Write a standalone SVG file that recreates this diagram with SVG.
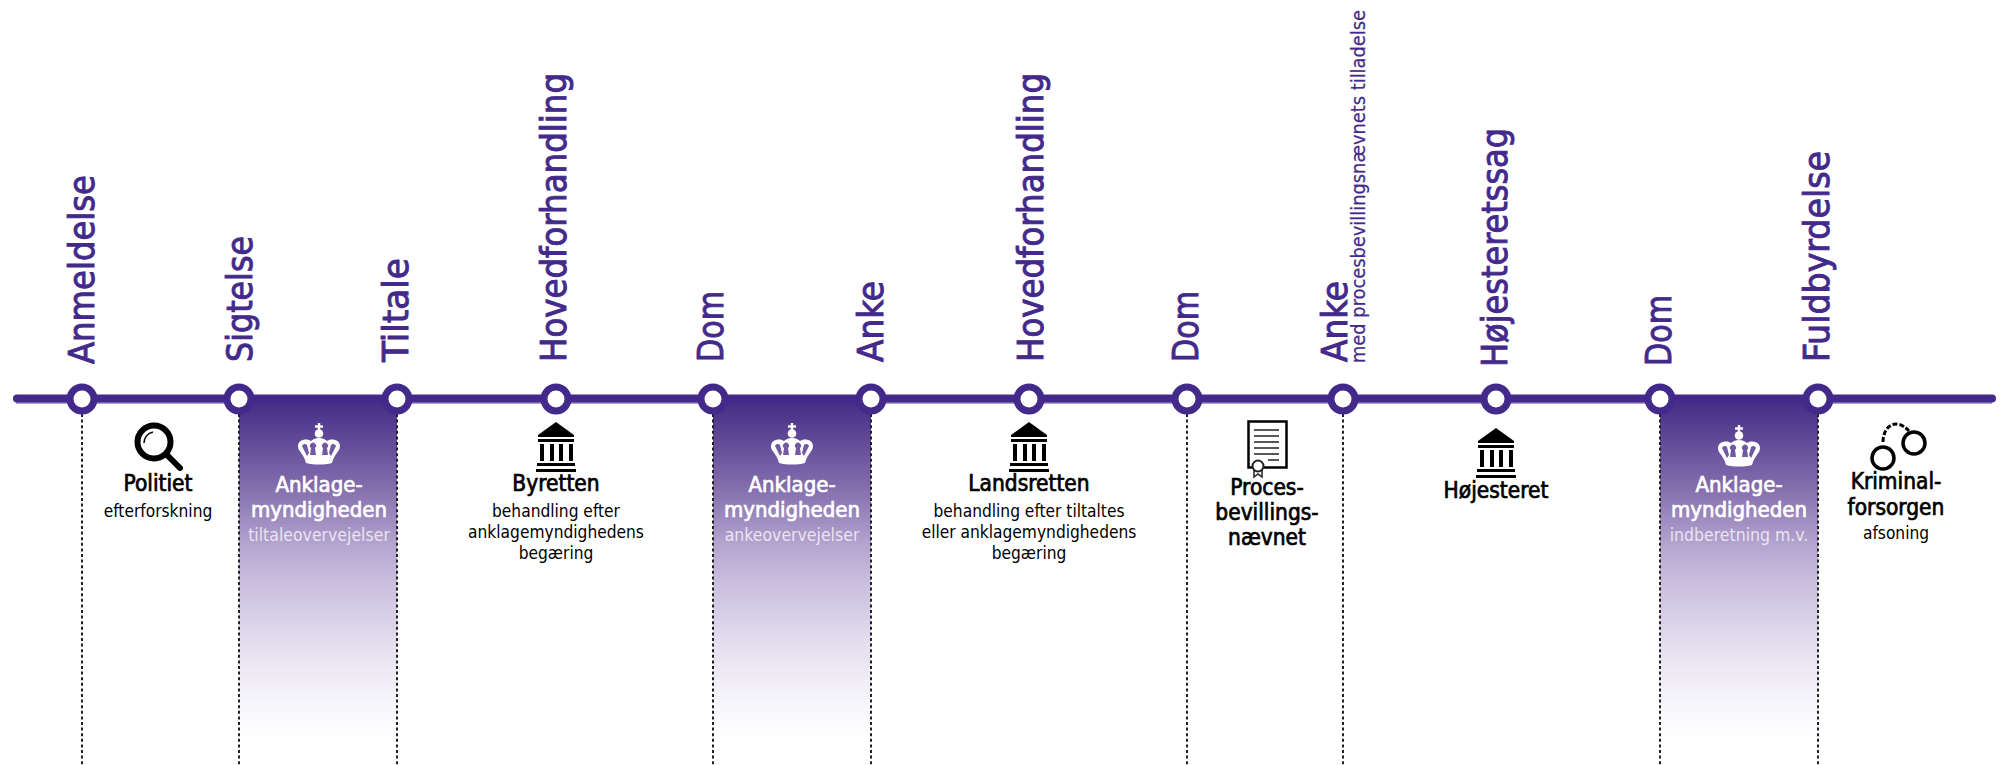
<svg xmlns="http://www.w3.org/2000/svg" width="2005" height="765" viewBox="0 0 2005 765">
<style>
text{font-family:"DejaVu Sans","Liberation Sans",sans-serif;font-stretch:condensed}
.lab{font-size:36px;fill:#432a8a;stroke:#432a8a;stroke-width:.9px}
.sm{font-size:20px;fill:#432a8a;stroke:#432a8a;stroke-width:.2px}
.t{font-size:22.500px;text-anchor:middle;fill:#000;stroke:#000;stroke-width:.7px}
.s{font-size:17.200px;text-anchor:middle;fill:#000}
.tw{font-size:22px;text-anchor:middle;fill:#fff;stroke:#fff;stroke-width:.7px}
.sw{font-size:17.500px;text-anchor:middle;fill:#fff;fill-opacity:.75}
.c{fill:#fff;stroke:#432a8a;stroke-width:7}
.d{stroke:#222;stroke-width:2;stroke-dasharray:3 2.600;fill:none}
</style>
<defs>
<linearGradient id="g" x1="0" y1="0" x2="0" y2="1"><stop offset="0" stop-color="#432a85"/><stop offset=".25" stop-color="#8670ae"/><stop offset=".4" stop-color="#b5a5d0"/><stop offset=".5" stop-color="#c9bede"/><stop offset=".68" stop-color="#e6e0f0"/><stop offset=".82" stop-color="#f6f4fa"/><stop offset=".93" stop-color="#fff"/></linearGradient>
<symbol id="crown" overflow="visible"><g fill="#fff">
<path d="M-1.200 0h2.400v2.300h2.800v2.400h-2.800v2h-2.400v-2h-2.800v-2.400h2.800z"/><circle cy="10.500" r="4.300"/>
<path d="M-13 40c-1-5-4-9-7-13-2-4-1-9 4-10 4-1 6 0 8 1 2-2 5-3 8-3s6 1 8 3c2-1 4-2 8-1 5 1 6 6 4 10-3 4-6 8-7 13-8 2-18 2-26 0z"/></g>
<g fill="#7259a3"><path d="M-8 25a3 3 0 1 1 4 0l1 7h-6z"/><path d="M4 25a3 3 0 1 1 4 0l1 7h-6z"/><path d="M-17 23a3 3 0 0 1 5-1l2 8-2 3z"/><path d="M17 23a3 3 0 0 0-5-1l-2 8 2 3z"/></g></symbol>
<symbol id="court" overflow="visible"><g fill="#000"><path d="M0 0L18 13V15H-18V13z"/><rect x="-18" y="17" width="36" height="3"/><rect x="-16" y="22" width="4" height="17"/><rect x="-6" y="22" width="4" height="17"/><rect x="3" y="22" width="4" height="17"/><rect x="13" y="22" width="4" height="17"/><rect x="-19" y="41" width="38" height="3"/><rect x="-20" y="47" width="40" height="3"/></g></symbol>
</defs>
<path d="M16 403H1992" stroke="#a99bd4" stroke-width="2" fill="none"/>
<g id="bands"><rect x="239" y="399" width="158" height="366" fill="url(#g)"/><rect x="713" y="399" width="158" height="366" fill="url(#g)"/><rect x="1660" y="399" width="158" height="366" fill="url(#g)"/></g>
<g id="connectors">
<path d="M17 398.500H1992" stroke="#432a8a" stroke-width="8" stroke-linecap="round" fill="none"/>
<path class="d" d="M82 414V765M239 414V765M397 414V765M713 414V765M871 414V765M1187 414V765M1343 414V765M1660 414V765M1818 414V765"/>
</g>
<g id="n1"><circle class="c" cx="82" cy="399" r="12"/><text class="lab" textLength="189" lengthAdjust="spacingAndGlyphs" transform="translate(94 364) rotate(-90)">Anmeldelse</text></g>
<g id="n2"><circle class="c" cx="239" cy="399" r="12"/><text class="lab" textLength="126" lengthAdjust="spacingAndGlyphs" transform="translate(252 362) rotate(-90)">Sigtelse</text></g>
<g id="n3"><circle class="c" cx="397" cy="399" r="12"/><text class="lab" textLength="104" lengthAdjust="spacingAndGlyphs" transform="translate(408 362) rotate(-90)">Tiltale</text></g>
<g id="n4"><circle class="c" cx="556" cy="399" r="12"/><text class="lab" textLength="289" lengthAdjust="spacingAndGlyphs" transform="translate(566 362) rotate(-90)">Hovedforhandling</text></g>
<g id="n5"><circle class="c" cx="713" cy="399" r="12"/><text class="lab" textLength="71" lengthAdjust="spacingAndGlyphs" transform="translate(723 362) rotate(-90)">Dom</text></g>
<g id="n6"><circle class="c" cx="871" cy="399" r="12"/><text class="lab" textLength="81" lengthAdjust="spacingAndGlyphs" transform="translate(883 362) rotate(-90)">Anke</text></g>
<g id="n7"><circle class="c" cx="1029" cy="399" r="12"/><text class="lab" textLength="289" lengthAdjust="spacingAndGlyphs" transform="translate(1043 362) rotate(-90)">Hovedforhandling</text></g>
<g id="n8"><circle class="c" cx="1187" cy="399" r="12"/><text class="lab" textLength="71" lengthAdjust="spacingAndGlyphs" transform="translate(1198 362) rotate(-90)">Dom</text></g>
<g id="n9"><circle class="c" cx="1343" cy="399" r="12"/><text class="lab" textLength="81" lengthAdjust="spacingAndGlyphs" transform="translate(1347 362) rotate(-90)">Anke</text><text class="sm" textLength="353" lengthAdjust="spacingAndGlyphs" transform="translate(1365 363) rotate(-90)">med procesbevillingsnævnets tilladelse</text></g>
<g id="n10"><circle class="c" cx="1496" cy="399" r="12"/><text class="lab" textLength="239" lengthAdjust="spacingAndGlyphs" transform="translate(1507 367) rotate(-90)">Højesteretssag</text></g>
<g id="n11"><circle class="c" cx="1660" cy="399" r="12"/><text class="lab" textLength="71" lengthAdjust="spacingAndGlyphs" transform="translate(1671 366) rotate(-90)">Dom</text></g>
<g id="n12"><circle class="c" cx="1818" cy="399" r="12"/><text class="lab" textLength="211" lengthAdjust="spacingAndGlyphs" transform="translate(1829 362) rotate(-90)">Fuldbyrdelse</text></g>
<g id="politi"><circle cx="154" cy="442" r="16.500" fill="none" stroke="#000" stroke-width="6"/><path d="M167 455L180 468" stroke="#000" stroke-width="6" stroke-linecap="round"/><path d="M144 443a11 11 0 0 1 9-11" fill="none" stroke="#000" stroke-width="1.500"/><text class="t" x="158" y="491">Politiet</text><text class="s" x="158" y="517">efterforskning</text></g>
<g id="ak1"><use href="#crown" x="319" y="423"/><text class="tw" x="319" y="492">Anklage-</text><text class="tw" x="319" y="517">myndigheden</text><text class="sw" x="319" y="541">tiltaleovervejelser</text></g>
<g id="by"><use href="#court" x="556" y="422"/><text class="t" x="556" y="491">Byretten</text><text class="s" x="556" y="517">behandling efter</text><text class="s" x="556" y="538">anklagemyndighedens</text><text class="s" x="556" y="559">begæring</text></g>
<g id="ak2"><use href="#crown" x="792" y="423"/><text class="tw" x="792" y="492">Anklage-</text><text class="tw" x="792" y="517">myndigheden</text><text class="sw" x="792" y="541">ankeovervejelser</text></g>
<g id="la"><use href="#court" x="1029" y="422"/><text class="t" x="1029" y="491">Landsretten</text><text class="s" x="1029" y="517">behandling efter tiltaltes</text><text class="s" x="1029" y="538">eller anklagemyndighedens</text><text class="s" x="1029" y="559">begæring</text></g>
<g id="pb"><rect x="1248.500" y="421.500" width="38" height="46" fill="#fff" stroke="#000" stroke-width="2.500"/><path d="M1254 430H1279M1254 436H1279M1254 442H1279M1254 448H1279M1254 454H1279M1268 460H1279" stroke="#222" stroke-width="1.500"/><path d="M1254 470V477L1258 474L1262 477V470" fill="#fff" stroke="#222" stroke-width="1.500"/><circle cx="1258" cy="466" r="5.500" fill="#fff" stroke="#222" stroke-width="2"/><text class="t" x="1267" y="495">Proces-</text><text class="t" x="1267" y="520">bevillings-</text><text class="t" x="1267" y="545">nævnet</text></g>
<g id="hr"><use href="#court" x="1496" y="428"/><text class="t" x="1496" y="498">Højesteret</text></g>
<g id="ak3"><use href="#crown" x="1739" y="425"/><text class="tw" x="1739" y="492">Anklage-</text><text class="tw" x="1739" y="517">myndigheden</text><text class="sw" x="1739" y="541">indberetning m.v.</text></g>
<g id="kr"><circle cx="1883" cy="458" r="11" fill="none" stroke="#000" stroke-width="3.500"/><circle cx="1914" cy="443" r="11" fill="none" stroke="#000" stroke-width="3.500"/><path d="M1883 442C1883 426 1896 417 1909 431" fill="none" stroke="#000" stroke-width="3" stroke-dasharray="5 2"/><text class="t" x="1896" y="489">Kriminal-</text><text class="t" x="1896" y="515">forsorgen</text><text class="s" x="1896" y="539">afsoning</text></g>
</svg>
